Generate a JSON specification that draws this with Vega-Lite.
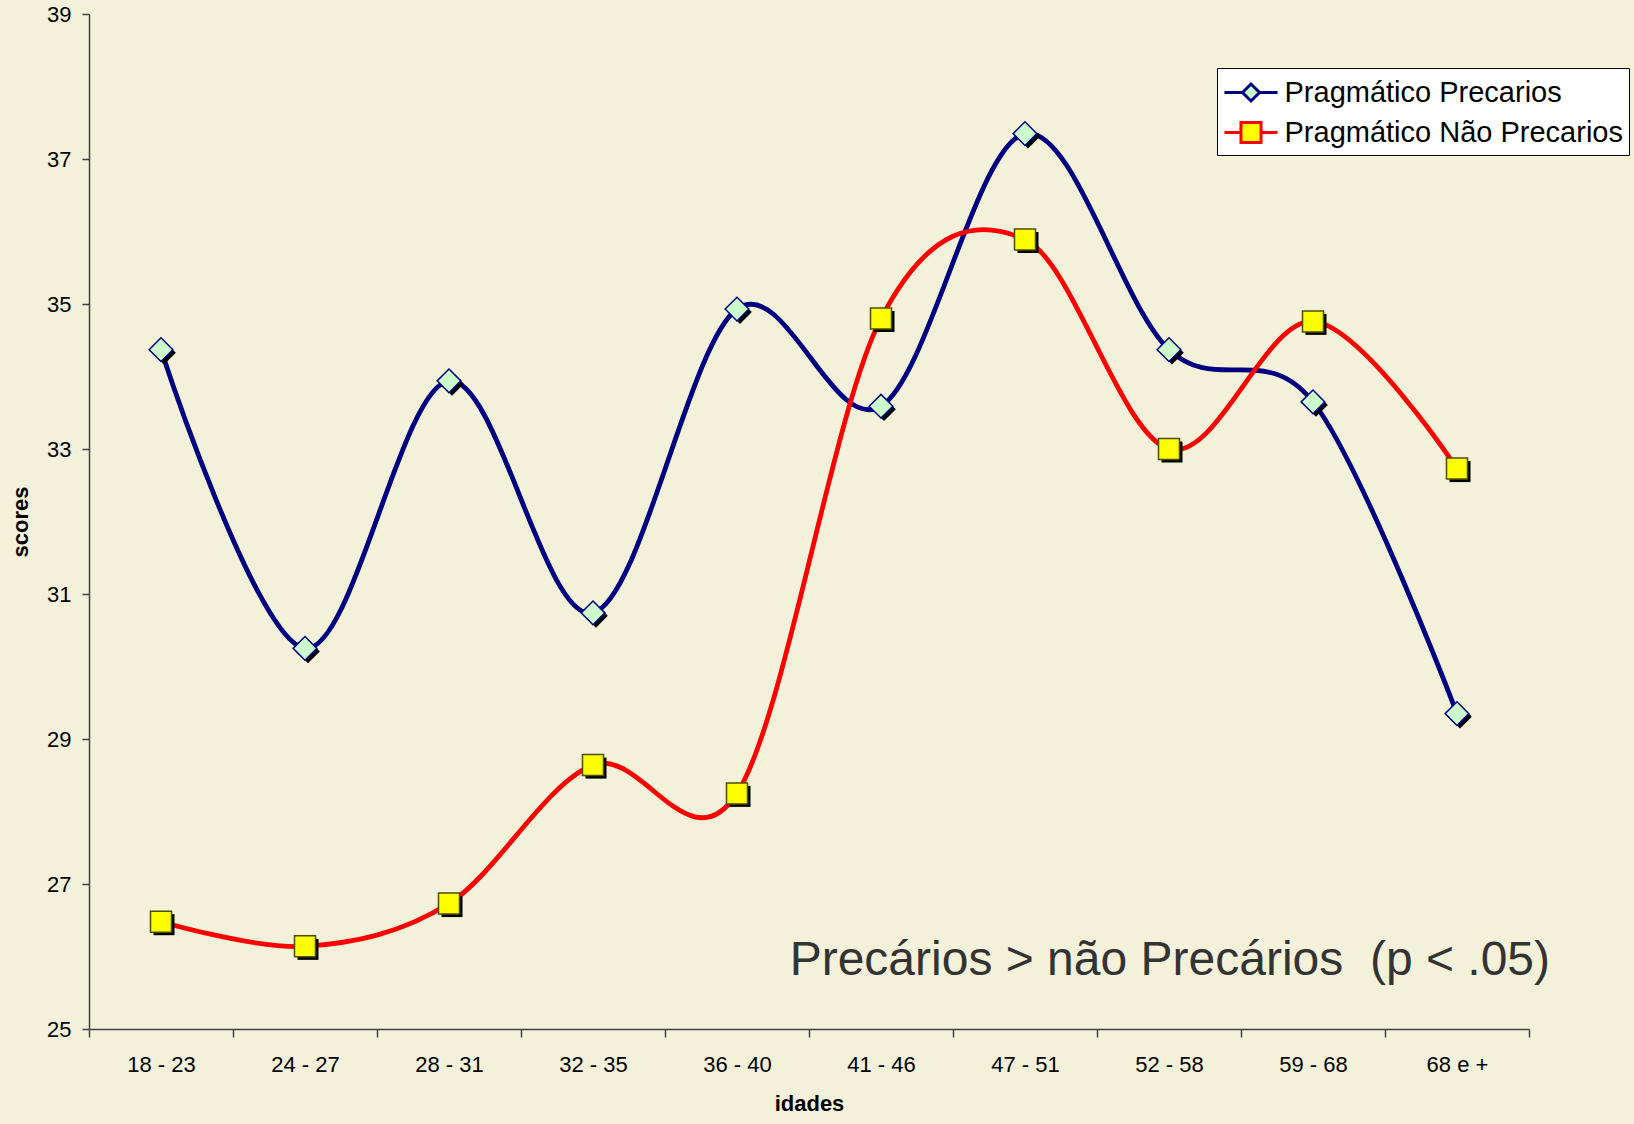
{
  "$schema": "https://vega.github.io/schema/vega-lite/v6.json",
  "width": 1440,
  "height": 1015,
  "autosize": {"type": "none"},
  "padding": {"left": 89, "top": 14, "right": 105, "bottom": 95},
  "background": "#F3F1D9",
  "config": {
    "view": {"stroke": null},
    "font": "Liberation Sans",
    "axis": {
      "domainColor": "#404040",
      "tickColor": "#404040",
      "domainWidth": 1.5,
      "tickWidth": 1.5,
      "grid": false,
      "labelFont": "Liberation Sans",
      "labelFontSize": 22,
      "labelColor": "#000000",
      "titleFont": "Liberation Sans",
      "titleFontSize": 22,
      "titleFontWeight": "bold",
      "titleColor": "#000000"
    },
    "legend": {
      "orient": "none",
      "legendX": 1128,
      "legendY": 54,
      "fillColor": "#FFFFFF",
      "strokeColor": "#000000",
      "padding": 6,
      "labelFont": "Liberation Sans",
      "labelFontSize": 29,
      "labelColor": "#000000",
      "labelOffset": 15,
      "symbolOffset": 9.5,
      "symbolSize": 1156,
      "symbolStrokeWidth": 3,
      "rowPadding": 6,
      "symbolOpacity": 1,
      "labelLimit": 600
    }
  },
  "data": {
    "values": [
      {"idade": "18 - 23", "serie": "Pragmático Precarios", "score": 34.37},
      {"idade": "24 - 27", "serie": "Pragmático Precarios", "score": 30.25},
      {"idade": "28 - 31", "serie": "Pragmático Precarios", "score": 33.94},
      {"idade": "32 - 35", "serie": "Pragmático Precarios", "score": 30.74},
      {"idade": "36 - 40", "serie": "Pragmático Precarios", "score": 34.93},
      {"idade": "41 - 46", "serie": "Pragmático Precarios", "score": 33.59},
      {"idade": "47 - 51", "serie": "Pragmático Precarios", "score": 37.35},
      {"idade": "52 - 58", "serie": "Pragmático Precarios", "score": 34.37},
      {"idade": "59 - 68", "serie": "Pragmático Precarios", "score": 33.65},
      {"idade": "68 e +", "serie": "Pragmático Precarios", "score": 29.35},
      {"idade": "18 - 23", "serie": "Pragmático Não Precarios", "score": 26.48},
      {"idade": "24 - 27", "serie": "Pragmático Não Precarios", "score": 26.14},
      {"idade": "28 - 31", "serie": "Pragmático Não Precarios", "score": 26.73},
      {"idade": "32 - 35", "serie": "Pragmático Não Precarios", "score": 28.64},
      {"idade": "36 - 40", "serie": "Pragmático Não Precarios", "score": 28.25},
      {"idade": "41 - 46", "serie": "Pragmático Não Precarios", "score": 34.8},
      {"idade": "47 - 51", "serie": "Pragmático Não Precarios", "score": 35.89},
      {"idade": "52 - 58", "serie": "Pragmático Não Precarios", "score": 33.0},
      {"idade": "59 - 68", "serie": "Pragmático Não Precarios", "score": 34.76},
      {"idade": "68 e +", "serie": "Pragmático Não Precarios", "score": 32.73}
    ]
  },
  "encoding": {
    "x": {
      "field": "idade",
      "type": "ordinal",
      "sort": ["18 - 23", "24 - 27", "28 - 31", "32 - 35", "36 - 40", "41 - 46", "47 - 51", "52 - 58", "59 - 68", "68 e +"],
      "scale": {"type": "band", "paddingInner": 0, "paddingOuter": 0},
      "bandPosition": 0.5,
      "axis": {
        "title": "idades",
        "labelAngle": 0,
        "tickBand": "extent",
        "tickSize": 8,
        "labelPadding": 17,
        "titlePadding": 18
      }
    },
    "y": {
      "field": "score",
      "type": "quantitative",
      "scale": {"domain": [25, 39], "nice": false, "zero": false},
      "axis": {
        "title": "scores",
        "values": [25, 27, 29, 31, 33, 35, 37, 39],
        "tickSize": 7,
        "labelPadding": 11,
        "titlePadding": 14
      }
    }
  },
  "layer": [
    {
      "mark": {"type": "line", "interpolate": "cardinal", "strokeWidth": 4.8},
      "encoding": {
        "stroke": {
          "field": "serie",
          "type": "nominal",
          "title": null,
          "scale": {"domain": ["Pragmático Precarios", "Pragmático Não Precarios"], "range": ["#000080", "#FF0000"]}
        }
      }
    },
    {
      "transform": [{"filter": "false"}],
      "mark": {"type": "point", "filled": true, "opacity": 1},
      "encoding": {
        "stroke": {
          "field": "serie",
          "type": "nominal",
          "title": null,
          "scale": {"domain": ["Pragmático Precarios", "Pragmático Não Precarios"], "range": ["#000080", "#FF0000"]}
        },
        "fill": {
          "field": "serie",
          "type": "nominal",
          "title": null,
          "scale": {"domain": ["Pragmático Precarios", "Pragmático Não Precarios"], "range": ["#CCFFCC", "#FFFF00"]}
        },
        "shape": {
          "field": "serie",
          "type": "nominal",
          "title": null,
          "scale": {
            "domain": ["Pragmático Precarios", "Pragmático Não Precarios"],
            "range": [
              "M-1.56,0H-0.5M0.5,0H1.56M0,-0.5L0.5,0L0,0.5L-0.5,0Z",
              "M-1.56,0H-0.59M0.59,0H1.56M-0.59,-0.59H0.59V0.59H-0.59Z"
            ]
          }
        }
      }
    },
    {
      "transform": [{"filter": "datum.serie === 'Pragmático Precarios'"}],
      "mark": {"type": "point", "shape": "diamond", "filled": true, "color": "#000000", "opacity": 1, "size": 560, "xOffset": 3, "yOffset": 3}
    },
    {
      "transform": [{"filter": "datum.serie === 'Pragmático Não Precarios'"}],
      "mark": {"type": "point", "shape": "square", "filled": true, "color": "#000000", "opacity": 1, "size": 441, "xOffset": 3, "yOffset": 3}
    },
    {
      "transform": [{"filter": "datum.serie === 'Pragmático Precarios'"}],
      "mark": {"type": "point", "shape": "diamond", "filled": true, "fill": "#CCFFCC", "stroke": "#000080", "strokeWidth": 1.5, "opacity": 1, "size": 560}
    },
    {
      "transform": [{"filter": "datum.serie === 'Pragmático Não Precarios'"}],
      "mark": {"type": "point", "shape": "square", "filled": true, "fill": "#FFFF00", "stroke": "#4D4D00", "strokeWidth": 1.5, "opacity": 1, "size": 441}
    },
    {
      "data": {"values": [{"nota": "Precários > não Precários \u00a0(p < .05)", "idade": "68 e +", "score": 25.75}]},
      "mark": {"type": "text", "font": "Liberation Sans", "fontSize": 48, "color": "#333333", "align": "right", "baseline": "alphabetic", "dx": 21},
      "encoding": {
        "x": {
          "field": "idade",
          "type": "ordinal",
          "sort": ["18 - 23", "24 - 27", "28 - 31", "32 - 35", "36 - 40", "41 - 46", "47 - 51", "52 - 58", "59 - 68", "68 e +"],
          "bandPosition": 1
        },
        "text": {"field": "nota"}
      }
    }
  ]
}
